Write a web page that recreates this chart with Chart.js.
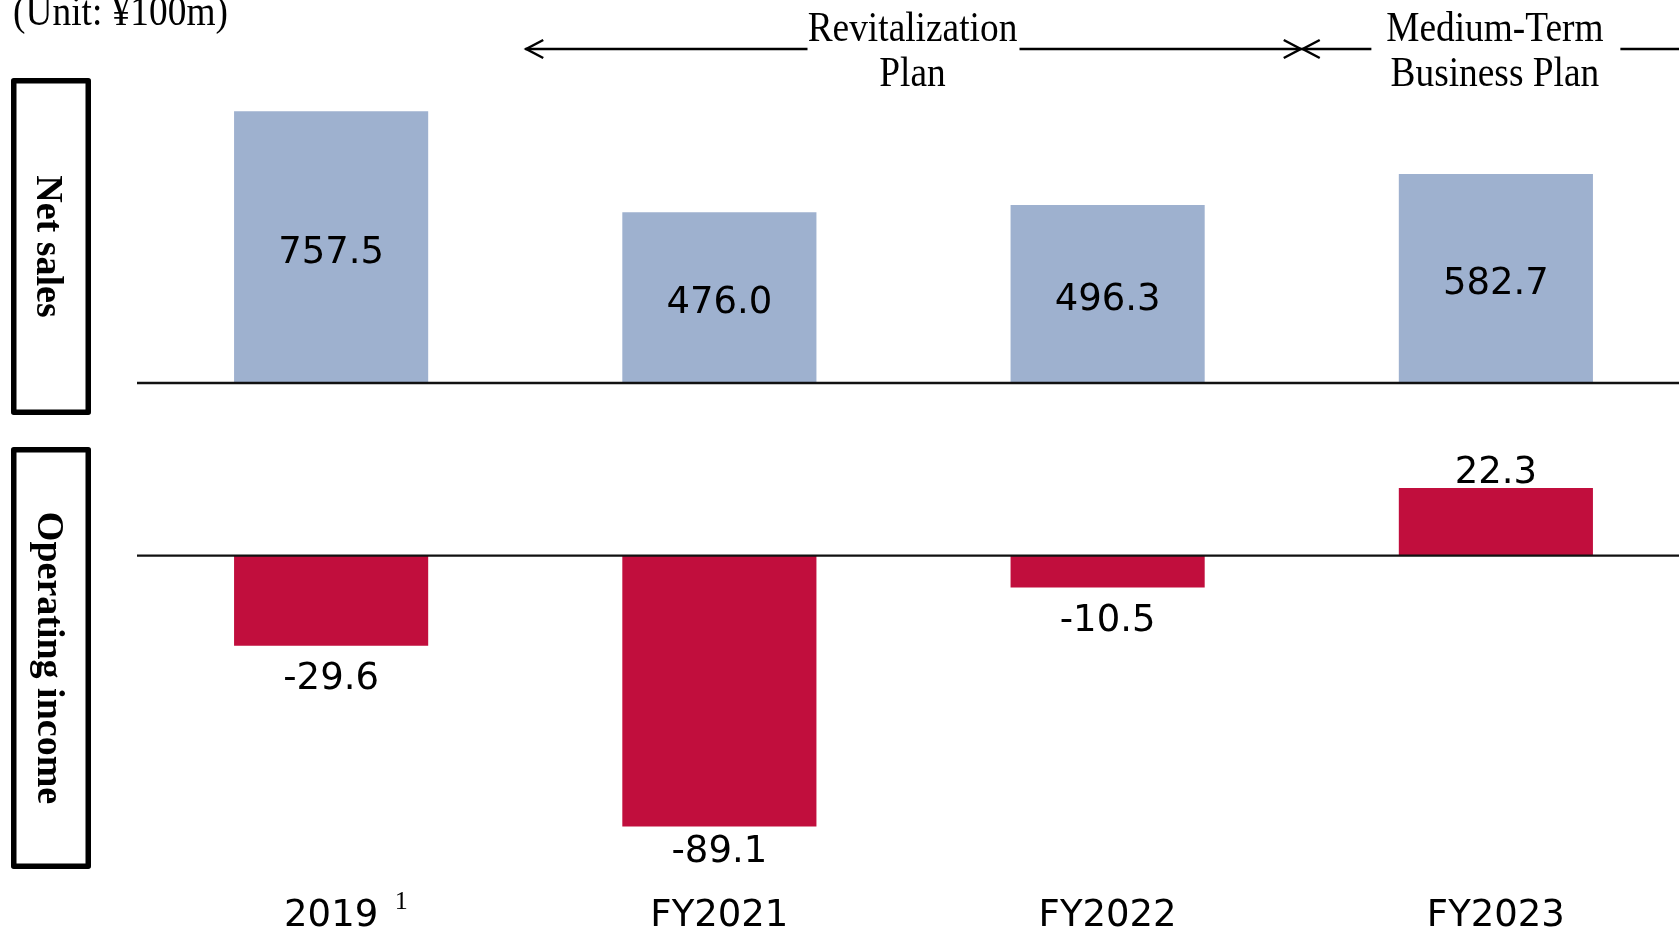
<!DOCTYPE html>
<html>
<head>
<meta charset="utf-8">
<script src="https://cdn.jsdelivr.net/npm/chart.js@4.4.1/dist/chart.umd.min.js"></script>
<style>
  html, body { margin: 0; padding: 0; background: #ffffff; overflow: hidden; }
  #wrap { position: relative; width: 1679px; height: 931px; overflow: hidden; background: #ffffff; }
  #wrap canvas { position: absolute; left: 0; top: 0; }
</style>
</head>
<body>
<div id="wrap">
  <canvas id="salesChart" width="1700" height="931"></canvas>
  <canvas id="incomeChart" width="1700" height="980"></canvas>
</div>
<script>
// Fiscal years and results (unit: ¥100m)
const categories = ['2019', 'FY2021', 'FY2022', 'FY2023'];
const netSales = [757.5, 476.0, 496.3, 582.7];
const operatingIncome = [-29.6, -89.1, -10.5, 22.3];

// Text shown around the panels
const unitNote = '(Unit: ¥100m)';
const panelTitles = ['Net sales', 'Operating income'];
const footnoteMark = '1';

// Management plan periods, by category index; the last one runs on past the chart
const planNames = [['Revitalization', 'Plan'], ['Medium-Term', 'Business Plan']];
const planFirst = [1, 3];
const planLast = [2, 3];
const planContinues = [false, true];

const SALES_COLOR = '#9eb1cf';
const INCOME_COLOR = '#c10e3d';
const LABEL_FONT = '37px "DejaVu Sans"';
const LABEL_NUDGE = 3;
const SERIF = '"Liberation Serif", "Times New Roman", serif';
const SQUEEZE = 0.89; // narrow serif lettering

function drawZeroLine(chart, width) {
  const { ctx, chartArea, scales: { y } } = chart;
  const y0 = y.getPixelForValue(0);
  ctx.save();
  ctx.strokeStyle = '#111111';
  ctx.lineWidth = width;
  ctx.beginPath();
  ctx.moveTo(chartArea.left, y0);
  ctx.lineTo(chart.width, y0);
  ctx.stroke();
  ctx.restore();
}

function squeezedText(ctx, text, x, y) {
  ctx.save();
  ctx.translate(x, y);
  ctx.scale(SQUEEZE, 1);
  ctx.fillText(text, 0, 0);
  ctx.restore();
}

function chevron(ctx, tipX, y, dir) {
  // dir = -1 points left, +1 points right
  ctx.beginPath();
  ctx.moveTo(tipX - dir * 17, y - 9);
  ctx.lineTo(tipX, y);
  ctx.lineTo(tipX - dir * 17, y + 9);
  ctx.stroke();
}

function sideBox(ctx, left, top, right, bottom, title, baselineX) {
  ctx.save();
  ctx.strokeStyle = '#000000';
  ctx.lineWidth = 5.5;
  ctx.lineJoin = 'round';
  const inset = 2.75;
  ctx.strokeRect(left + inset, top + inset, right - left - 2 * inset, bottom - top - 2 * inset);
  ctx.translate(baselineX, (top + bottom) / 2);
  ctx.rotate(Math.PI / 2);
  ctx.fillStyle = '#000000';
  ctx.font = 'bold 38px ' + SERIF;
  ctx.textAlign = 'center';
  ctx.textBaseline = 'alphabetic';
  ctx.fillText(title, 0, 0);
  ctx.restore();
}

// Upper panel: net sales, plan brackets, unit note and panel boxes
const salesDecor = {
  id: 'salesDecor',
  afterDatasetsDraw(chart) {
    const { ctx, scales: { x } } = chart;
    drawZeroLine(chart, 2.6);

    // value labels centred inside the bars
    const meta = chart.getDatasetMeta(0);
    ctx.save();
    ctx.fillStyle = '#000000';
    ctx.font = LABEL_FONT;
    ctx.textAlign = 'center';
    ctx.textBaseline = 'middle';
    meta.data.forEach((bar, i) => {
      ctx.fillText(netSales[i].toFixed(1), bar.x, (bar.y + bar.base) / 2 + 3 + LABEL_NUDGE);
    });
    ctx.restore();

    // unit note
    ctx.save();
    ctx.fillStyle = '#000000';
    ctx.font = '42px ' + SERIF;
    ctx.textAlign = 'left';
    ctx.textBaseline = 'alphabetic';
    squeezedText(ctx, unitNote, 13, 25);
    ctx.restore();

    // plan period brackets across the top
    const step = x.getPixelForValue(1) - x.getPixelForValue(0);
    const opts = chart.options.plugins.salesDecor;
    const lineY = opts.bracketY;
    ctx.save();
    ctx.strokeStyle = '#000000';
    ctx.fillStyle = '#000000';
    ctx.lineWidth = 2.5;
    ctx.font = '42px ' + SERIF;
    ctx.textAlign = 'center';
    ctx.textBaseline = 'alphabetic';
    planNames.forEach((lines, i) => {
      const start = x.getPixelForValue(planFirst[i]) - step / 2;
      const end = x.getPixelForValue(planLast[i]) + step / 2;
      const mid = (start + end) / 2;
      const half = opts.textGaps[i] / 2;
      const lineEnd = planContinues[i] ? chart.width : end;
      ctx.beginPath();
      ctx.moveTo(start, lineY);
      ctx.lineTo(mid - half, lineY);
      ctx.moveTo(mid + half, lineY);
      ctx.lineTo(lineEnd, lineY);
      ctx.stroke();
      chevron(ctx, start + 1, lineY, -1);
      if (!planContinues[i]) chevron(ctx, end - 1, lineY, 1);
      lines.forEach((t, k) => squeezedText(ctx, t, mid - 1, opts.textBaselines[k]));
    });
    ctx.restore();

    // panel boxes on the left
    sideBox(ctx, 11, 78, 91, 415, panelTitles[0], 37);
    sideBox(ctx, 11, 447, 91, 869, panelTitles[1], 38);
  }
};

// Lower panel: operating income, value labels and footnote mark
const incomeDecor = {
  id: 'incomeDecor',
  afterDatasetsDraw(chart) {
    const { ctx, chartArea } = chart;
    drawZeroLine(chart, 2.2);
    const meta = chart.getDatasetMeta(0);
    ctx.save();
    ctx.fillStyle = '#000000';
    ctx.font = LABEL_FONT;
    ctx.textAlign = 'center';
    ctx.textBaseline = 'middle';
    meta.data.forEach((bar, i) => {
      const v = operatingIncome[i];
      const cy = v < 0 ? Math.min(bar.y + 31, chartArea.bottom - 10) : bar.y - 18;
      ctx.fillText(v.toFixed(1), bar.x, cy + LABEL_NUDGE);
    });
    ctx.restore();
  },
  afterDraw(chart) {
    const { ctx, scales: { x } } = chart;
    ctx.save();
    ctx.fillStyle = '#000000';
    ctx.font = '26px ' + SERIF;
    ctx.textAlign = 'center';
    ctx.textBaseline = 'alphabetic';
    ctx.fillText(footnoteMark, x.getPixelForValue(0) + 70, 909);
    ctx.restore();
  }
};

new Chart(document.getElementById('salesChart'), {
  type: 'bar',
  data: {
    labels: categories,
    datasets: [{
      data: netSales,
      backgroundColor: SALES_COLOR,
      borderWidth: 0,
      categoryPercentage: 0.5,
      barPercentage: 1.0
    }]
  },
  options: {
    responsive: false,
    animation: false,
    layout: { padding: { left: 137, right: 10, top: 96, bottom: 548 } },
    scales: {
      x: { display: false },
      y: { display: false, min: 0, max: 800 }
    },
    plugins: {
      legend: { display: false },
      tooltip: { enabled: false },
      salesDecor: { bracketY: 49, textGaps: [212, 249], textBaselines: [41, 86] }
    }
  },
  plugins: [salesDecor]
});

new Chart(document.getElementById('incomeChart'), {
  type: 'bar',
  data: {
    labels: categories,
    datasets: [{
      data: operatingIncome,
      backgroundColor: INCOME_COLOR,
      borderWidth: 0,
      categoryPercentage: 0.5,
      barPercentage: 1.0
    }]
  },
  options: {
    responsive: false,
    animation: false,
    layout: { padding: { left: 137, right: 10, top: 464.5, bottom: 7.9 } },
    scales: {
      x: {
        display: true,
        grid: { display: false, drawTicks: false, tickLength: 0 },
        border: { display: false },
        ticks: {
          color: '#000000',
          padding: 34,
          maxRotation: 0,
          font: { family: 'DejaVu Sans', size: 37 }
        }
      },
      y: { display: false, min: -100, max: 30 }
    },
    plugins: {
      legend: { display: false },
      tooltip: { enabled: false }
    }
  },
  plugins: [incomeDecor]
});
</script>
</body>
</html>
